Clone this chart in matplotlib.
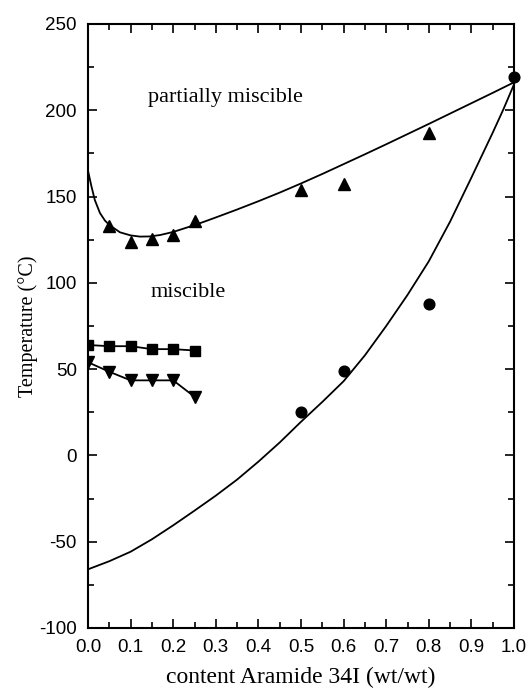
import numpy as np
import matplotlib
matplotlib.use('Agg')
import matplotlib.pyplot as plt
from matplotlib.ticker import MultipleLocator

plt.rcParams['axes.unicode_minus'] = False

x_tri_up = [0.05, 0.10, 0.15, 0.20, 0.25, 0.50, 0.60, 0.80]
y_tri_up = [133, 123.5, 125.5, 127.5, 136, 154, 157, 187]

x_circ = [0.50, 0.60, 0.80, 1.00]
y_circ = [25, 49, 88, 219.5]

x_sq = [0.00, 0.05, 0.10, 0.15, 0.20, 0.25]
y_sq = [64, 63.3, 63.3, 61.6, 61.6, 60.8]

x_tri_down = [0.00, 0.05, 0.10, 0.15, 0.20, 0.25]
y_tri_down = [54, 48.5, 43.5, 43.5, 43.5, 34]

# fitted curves
x_upper = [0.0, 0.008, 0.016, 0.028, 0.04, 0.052, 0.075, 0.10, 0.122, 0.145,
           0.169, 0.20, 0.239, 0.27, 0.30, 0.35, 0.40, 0.45, 0.50, 0.55,
           0.60, 0.65, 0.70, 0.75, 0.80, 0.85, 0.90, 0.95, 1.0]
y_upper = [165, 156, 148, 140.5, 136, 133.2, 129.3, 127.5, 126.8, 126.9,
           127.7, 129.5, 132.6, 135.2, 137.9, 142.5, 147.3, 152.3, 157.6, 163.1,
           168.8, 174.5, 180.3, 186.2, 192.1, 198.1, 204.1, 210.1, 216.2]

x_lower = [0.0, 0.05, 0.10, 0.15, 0.20, 0.25, 0.30, 0.35, 0.40, 0.45,
           0.50, 0.55, 0.60, 0.65, 0.70, 0.75, 0.80, 0.85, 0.90, 0.95,
           0.975, 1.0]
y_lower = [-66, -61.3, -55.8, -48.6, -40.5, -32, -23.3, -14, -3.6, 7.5,
           19.5, 31, 43, 58, 75, 93, 112.5, 135.5, 161, 187,
           200.5, 215]

fig = plt.figure(figsize=(5.29, 6.91), dpi=100, facecolor='w')
ax = fig.add_axes([88/529, 63/691, 426/529, 604/691])

ax.plot(x_upper, y_upper, 'k-', lw=1.3)
ax.plot(x_lower, y_lower, 'k-', lw=1.3)
ax.plot(x_sq, y_sq, 'ks-', lw=1.3, ms=7)
ax.plot(x_tri_down, y_tri_down, 'kv-', lw=1.3, ms=8.5)
ax.plot(x_tri_up, y_tri_up, 'k^', ms=9, ls='none')
ax.plot(x_circ, y_circ, 'ko', ms=7.7, ls='none', clip_on=False, zorder=5)

ax.set_xlim(0, 1.0)
ax.set_ylim(-100, 250)
ax.xaxis.set_major_locator(MultipleLocator(0.1))
ax.xaxis.set_minor_locator(MultipleLocator(0.05))
ax.yaxis.set_major_locator(MultipleLocator(50))
ax.yaxis.set_minor_locator(MultipleLocator(25))
ax.xaxis.set_major_formatter(plt.FuncFormatter(lambda v, p: '%.1f' % v))

ax.tick_params(which='both', direction='in', top=True, right=True,
               width=1.2, labelsize=13.5, pad=8)
ax.tick_params(which='major', length=6.5)
ax.tick_params(which='minor', length=4)
for lbl in ax.get_xticklabels() + ax.get_yticklabels():
    lbl.set_fontfamily('Liberation Sans')
for spine in ax.spines.values():
    spine.set_linewidth(1.5)

serif = 'Liberation Serif'
ax.set_xlabel('content Aramide 34I (wt/wt)', fontsize=17, family=serif)
ax.xaxis.set_label_coords(0.5, -0.064)
ax.set_ylabel('Temperature (°C)', fontsize=14.5, family=serif, labelpad=1)

ax.text(0.141, 205, 'partially miscible', fontsize=16, family=serif,
        ha='left', va='baseline')
ax.text(0.146, 92, 'miscible', fontsize=16, family=serif,
        ha='left', va='baseline')

fig.savefig('out.png', dpi=100)
